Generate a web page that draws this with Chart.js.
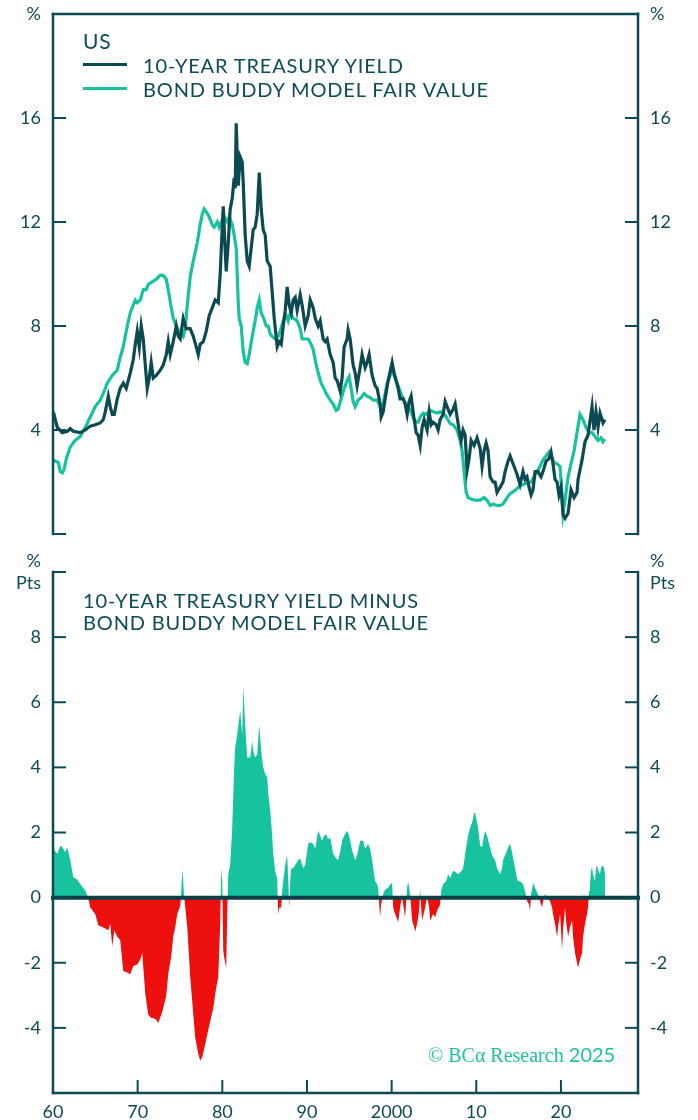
<!DOCTYPE html>
<html>
<head>
<meta charset="utf-8">
<script src="https://cdn.jsdelivr.net/npm/chart.js@4.4.1/dist/chart.umd.min.js"></script>
<style>
  html, body { margin: 0; padding: 0; background: #fff; }
  #wrap { position: relative; width: 698px; height: 1120px; overflow: hidden; font-family: "Lato", "Open Sans", sans-serif; color: #0d4b55; }
  canvas { position: absolute; left: 0; top: 0; }
  .txt { position: absolute; white-space: nowrap; font-size: 20px; line-height: 24px; letter-spacing: 0.85px; }
  .sw { position: absolute; height: 3px; width: 44px; }
  .credit { position: absolute; left: 428px; top: 1042px; color: #1fc29d; font-size: 20px; white-space: nowrap; }
  .credit .serif { font-family: "Liberation Serif", "DejaVu Serif", serif; }
</style>
</head>
<body>
<div id="wrap">
  <canvas id="topChart" width="698" height="1120"></canvas>
  <canvas id="bottomChart" width="698" height="1120"></canvas>

  <div class="txt" style="left:83px; top:29px; font-size:21px;">US</div>
  <div class="sw" style="left:83px; top:63px; background:#0b4a51;"></div>
  <div class="txt" style="left:143px; top:53px;">10-YEAR TREASURY YIELD</div>
  <div class="sw" style="left:83px; top:87px; background:#16c39e;"></div>
  <div class="txt" style="left:143px; top:77px;">BOND BUDDY MODEL FAIR VALUE</div>

  <div class="txt" style="left:83px; top:588px;">10-YEAR TREASURY YIELD MINUS</div>
  <div class="txt" style="left:83px; top:610px;">BOND BUDDY MODEL FAIR VALUE</div>

  <div class="credit"><span class="serif">© BCα Research</span> 2025</div>
</div>

<script>
// ---- data (decimal years) ----
const yieldYears = [1960.04,1960.51,1961.10,1961.69,1962.04,1962.39,1963.22,1963.81,1964.40,1964.99,1965.58,1965.94,1966.17,1966.53,1966.76,1967.00,1967.24,1967.59,1967.94,1968.30,1968.65,1969.13,1969.48,1969.72,1969.95,1970.19,1970.42,1970.66,1970.90,1971.13,1971.37,1971.60,1971.84,1972.20,1972.67,1973.02,1973.38,1973.61,1973.85,1974.20,1974.56,1974.80,1975.03,1975.38,1975.74,1976.21,1976.57,1976.92,1977.16,1977.39,1977.75,1978.10,1978.45,1978.81,1979.16,1979.52,1979.75,1979.87,1980.11,1980.34,1980.46,1980.70,1980.93,1981.17,1981.40,1981.52,1981.64,1981.88,1982.11,1982.35,1982.47,1982.70,1982.94,1983.17,1983.41,1983.65,1983.88,1984.12,1984.36,1984.59,1984.83,1985.06,1985.30,1985.65,1985.89,1986.13,1986.48,1986.72,1986.96,1987.19,1987.43,1987.66,1987.90,1988.14,1988.37,1988.61,1988.84,1989.20,1989.43,1989.79,1990.14,1990.38,1990.73,1990.97,1991.32,1991.56,1991.91,1992.15,1992.38,1992.74,1993.09,1993.33,1993.56,1993.92,1994.15,1994.39,1994.74,1994.86,1995.10,1995.45,1995.69,1995.92,1996.28,1996.51,1996.87,1997.10,1997.34,1997.70,1998.05,1998.29,1998.64,1998.76,1999.00,1999.23,1999.59,2000.06,2000.29,2000.77,2001.00,2001.36,2001.59,2001.83,2002.07,2002.30,2002.66,2002.90,2003.13,2003.37,2003.60,2003.84,2004.19,2004.43,2004.67,2004.90,2005.26,2005.49,2005.73,2006.08,2006.32,2006.67,2006.91,2007.26,2007.50,2007.73,2007.97,2008.21,2008.44,2008.68,2008.91,2009.15,2009.39,2009.74,2010.09,2010.45,2010.68,2010.92,2011.16,2011.39,2011.63,2011.98,2012.22,2012.45,2012.81,2013.16,2013.40,2013.75,2013.99,2014.34,2014.58,2014.81,2015.17,2015.52,2015.76,2015.99,2016.23,2016.47,2016.70,2016.94,2017.29,2017.65,2017.88,2018.24,2018.59,2018.83,2019.06,2019.30,2019.54,2019.77,2020.01,2020.25,2020.48,2020.84,2021.19,2021.55,2021.90,2022.02,2022.49,2022.84,2023.20,2023.67,2023.90,2024.14,2024.38,2024.61,2024.97,2025.20];
const yieldValues = [4.7,4.1,3.9,3.95,4.05,3.95,3.9,4.0,4.15,4.2,4.27,4.4,4.7,5.3,4.9,4.6,4.6,5.2,5.6,5.8,5.6,6.2,6.7,7.3,7.8,7.2,8.0,7.5,6.5,5.6,6.0,6.6,6.0,6.1,6.3,6.5,6.9,7.4,6.9,7.4,8.0,7.6,7.5,8.3,7.9,7.9,7.6,7.2,6.9,7.3,7.4,7.8,8.4,8.7,9.0,8.9,10.0,10.9,12.6,10.9,10.1,11.2,12.5,12.9,13.7,13.3,15.8,13.4,14.5,14.3,13.5,11.5,10.5,10.3,11.0,11.7,11.8,12.3,13.9,12.5,11.7,11.5,10.5,10.3,9.3,8.3,7.2,7.4,7.3,8.0,8.6,9.5,8.8,8.5,9.0,9.1,8.6,9.2,8.8,8.0,8.4,9.0,8.7,8.3,8.0,8.2,7.5,7.4,7.5,6.9,6.6,6.0,5.9,5.5,6.0,7.2,7.5,7.85,7.5,6.5,6.2,5.7,6.4,6.9,6.4,6.6,6.9,6.1,5.7,5.6,5.0,4.5,4.7,5.2,5.9,6.6,6.2,5.6,5.2,5.2,5.0,4.6,5.1,5.3,4.4,3.9,3.8,3.4,4.1,4.4,4.0,4.7,4.2,4.3,4.2,4.0,4.4,4.6,5.1,4.8,4.6,4.8,5.0,4.5,4.0,3.6,4.0,3.8,2.45,2.9,3.6,3.4,3.7,3.3,2.6,3.2,3.5,3.2,2.2,2.0,2.0,1.6,1.8,2.0,2.4,2.8,3.0,2.7,2.5,2.3,1.9,2.4,2.1,2.2,1.8,1.5,1.7,2.4,2.4,2.2,2.4,2.8,2.9,3.15,2.7,2.1,2.0,1.5,1.8,0.73,0.6,0.8,1.7,1.4,1.6,2.1,2.85,3.55,3.8,4.9,4.0,4.7,4.1,4.65,4.27,4.4];

const modelYears = [1960.04,1960.27,1960.63,1960.86,1961.10,1961.33,1961.57,1962.04,1962.63,1963.22,1963.81,1964.40,1964.99,1965.58,1966.06,1966.41,1967.00,1967.59,1967.94,1968.30,1968.77,1969.13,1969.36,1969.72,1969.95,1970.31,1970.66,1971.01,1971.25,1971.72,1972.20,1972.67,1973.02,1973.38,1973.61,1973.97,1974.20,1974.56,1974.91,1975.15,1975.38,1975.62,1975.86,1976.21,1976.57,1977.04,1977.39,1977.63,1977.86,1978.10,1978.45,1978.81,1979.04,1979.40,1979.63,1979.87,1980.22,1980.58,1980.81,1981.17,1981.40,1981.64,1981.76,1981.88,1981.99,1982.23,1982.47,1982.70,1982.94,1983.17,1983.53,1983.88,1984.12,1984.36,1984.59,1984.83,1985.18,1985.42,1985.65,1985.89,1986.25,1986.60,1986.84,1987.19,1987.55,1987.78,1988.02,1988.37,1988.84,1989.20,1989.43,1989.79,1990.14,1990.49,1990.73,1991.09,1991.32,1991.68,1991.91,1992.27,1992.74,1993.09,1993.45,1993.68,1994.04,1994.39,1994.74,1994.98,1995.22,1995.45,1995.69,1996.04,1996.40,1996.75,1997.10,1997.46,1997.81,1998.29,1998.64,1999.00,1999.47,1999.82,2000.06,2000.29,2000.65,2001.00,2001.36,2001.83,2002.18,2002.54,2002.90,2003.13,2003.37,2003.72,2004.08,2004.55,2004.90,2005.37,2005.73,2006.08,2006.44,2006.91,2007.26,2007.73,2008.09,2008.32,2008.56,2008.80,2009.03,2009.39,2009.86,2010.45,2010.92,2011.27,2011.63,2011.98,2012.45,2012.81,2013.16,2013.63,2013.99,2014.46,2014.81,2015.17,2015.52,2015.99,2016.47,2016.82,2017.18,2017.53,2017.88,2018.24,2018.59,2018.83,2019.18,2019.54,2019.89,2020.13,2020.25,2020.48,2020.84,2021.19,2021.55,2021.90,2022.25,2022.61,2022.96,2023.32,2023.67,2024.02,2024.38,2024.73,2024.97,2025.20];
const modelValues = [2.85,2.8,2.75,2.4,2.35,2.5,2.9,3.35,3.6,3.75,4.1,4.5,4.9,5.15,5.5,5.8,6.1,6.3,6.8,7.2,8.0,8.5,8.7,9.0,8.9,9.0,9.4,9.4,9.6,9.7,9.8,9.96,9.95,9.8,9.4,8.7,8.3,8.0,7.75,7.7,7.6,7.9,8.8,9.9,10.5,11.2,11.9,12.3,12.5,12.4,12.2,11.9,11.8,12.0,11.8,12.0,12.2,12.0,12.2,11.9,11.5,11.0,10.0,8.9,8.3,8.0,7.0,6.6,6.55,6.9,7.6,8.2,8.7,9.0,8.5,8.35,8.0,8.0,7.7,7.6,7.5,7.6,7.8,8.2,8.4,8.2,8.5,8.3,8.2,7.9,7.5,7.5,7.5,7.3,7.1,6.5,6.2,5.8,5.65,5.4,5.15,5.0,4.75,4.8,5.2,5.6,5.9,6.05,5.6,5.1,4.9,5.15,5.25,5.4,5.3,5.25,5.15,5.15,4.9,5.0,5.8,6.1,6.3,6.1,5.8,5.5,5.2,4.9,4.8,4.5,4.3,4.3,4.5,4.65,4.6,4.75,4.7,4.65,4.7,4.65,4.5,4.25,4.2,4.0,3.6,3.2,2.4,1.6,1.4,1.35,1.3,1.3,1.4,1.3,1.1,1.15,1.1,1.1,1.15,1.4,1.55,1.65,1.75,1.85,1.9,1.95,2.0,2.2,2.4,2.6,2.85,3.0,3.15,3.0,2.75,2.7,2.6,1.5,0.8,1.3,2.2,2.7,3.2,3.9,4.6,4.4,4.1,3.9,3.9,3.75,3.6,3.7,3.55,3.65];

const spreadYears = [1960.04,1960.51,1960.86,1961.10,1961.45,1961.69,1962.04,1962.39,1962.87,1963.22,1963.81,1964.17,1964.40,1964.99,1965.35,1965.94,1966.53,1966.76,1967.00,1967.24,1967.59,1967.94,1968.30,1968.77,1969.13,1969.48,1969.95,1970.31,1970.54,1970.90,1971.25,1971.60,1971.84,1972.20,1972.43,1972.79,1973.02,1973.38,1973.61,1973.97,1974.20,1974.44,1974.68,1975.03,1975.15,1975.27,1975.38,1975.50,1975.62,1975.86,1976.21,1976.45,1976.80,1977.16,1977.39,1977.63,1977.98,1978.22,1978.57,1978.93,1979.16,1979.40,1979.52,1979.75,1979.87,1979.99,1980.11,1980.34,1980.46,1980.58,1980.70,1980.93,1981.17,1981.40,1981.52,1981.76,1982.11,1982.35,1982.47,1982.70,1982.94,1983.29,1983.53,1983.65,1983.88,1984.12,1984.36,1984.59,1984.83,1985.06,1985.30,1985.42,1985.65,1985.89,1986.01,1986.25,1986.48,1986.60,1986.72,1986.96,1987.07,1987.19,1987.43,1987.66,1987.78,1987.90,1988.02,1988.14,1988.37,1988.61,1988.96,1989.20,1989.55,1989.79,1990.14,1990.38,1990.73,1990.97,1991.32,1991.56,1991.79,1992.03,1992.27,1992.50,1992.74,1993.09,1993.45,1993.68,1993.92,1994.15,1994.39,1994.74,1994.98,1995.33,1995.69,1995.92,1996.28,1996.63,1996.87,1997.22,1997.46,1997.70,1998.05,1998.29,1998.41,1998.64,1998.76,1999.00,1999.23,1999.59,1999.82,2000.06,2000.18,2000.41,2000.77,2001.00,2001.24,2001.36,2001.59,2001.83,2001.95,2002.18,2002.42,2002.66,2002.78,2003.01,2003.25,2003.37,2003.49,2003.60,2003.96,2004.19,2004.43,2004.55,2004.90,2005.14,2005.37,2005.73,2005.85,2006.08,2006.44,2006.67,2006.91,2007.26,2007.50,2007.85,2008.21,2008.44,2008.80,2009.03,2009.27,2009.50,2009.74,2009.86,2010.09,2010.21,2010.45,2010.68,2010.92,2011.04,2011.27,2011.63,2011.86,2012.22,2012.45,2012.81,2013.04,2013.16,2013.40,2013.63,2013.87,2013.99,2014.22,2014.58,2014.81,2014.93,2015.17,2015.52,2015.76,2015.99,2016.23,2016.35,2016.47,2016.70,2016.94,2017.29,2017.53,2017.77,2018.00,2018.12,2018.36,2018.71,2018.95,2019.06,2019.30,2019.54,2019.66,2019.89,2020.01,2020.13,2020.25,2020.48,2020.60,2020.84,2021.07,2021.31,2021.43,2021.66,2021.90,2022.02,2022.25,2022.49,2022.61,2022.84,2023.08,2023.20,2023.32,2023.43,2023.55,2023.67,2023.79,2024.02,2024.14,2024.26,2024.38,2024.61,2024.73,2024.97,2025.08,2025.20];
const spreadValues = [1.5,1.35,1.6,1.55,1.4,1.55,1.15,0.63,0.55,0.42,0.22,0.0,-0.3,-0.5,-0.85,-0.92,-1.0,-0.8,-1.5,-1.0,-1.2,-1.3,-2.25,-2.3,-2.35,-2.1,-2.05,-1.9,-1.7,-2.95,-3.6,-3.7,-3.7,-3.75,-3.85,-3.6,-3.4,-3.0,-2.35,-1.8,-1.2,-0.9,-0.5,-0.25,0.2,0.85,0.5,0.0,-0.3,-0.9,-2.45,-3.2,-4.3,-4.8,-5.0,-4.9,-4.5,-4.2,-3.8,-3.4,-2.95,-2.6,-2.45,-0.8,0.9,0.5,-1.65,-2.0,-2.15,-0.5,0.72,1.0,2.15,4.0,4.6,5.0,5.75,5.0,6.5,5.3,4.3,4.3,4.8,4.5,4.3,4.4,5.3,4.5,4.0,3.8,3.7,3.2,2.7,1.9,1.35,0.8,0.6,-0.5,-0.3,-0.3,0.2,0.5,1.0,1.3,0.6,-0.3,0.5,0.9,0.9,1.0,1.15,1.2,0.9,1.0,1.65,1.7,1.65,1.5,2.05,1.9,1.75,1.9,1.95,1.8,1.85,1.35,1.2,1.15,1.4,1.75,1.9,2.05,1.9,1.45,1.15,1.3,1.75,1.75,1.5,1.65,1.5,1.15,0.5,0.4,0.3,-0.6,-0.2,0.1,0.25,0.3,0.4,0.45,-0.3,-0.5,-0.75,-0.3,0.1,-0.2,-0.6,0.3,0.5,0.1,-0.7,-0.9,-1.05,-0.8,-0.4,0.3,-0.3,-0.7,-0.3,0.05,-0.3,-0.7,-0.5,-0.6,-0.4,-0.2,0.2,0.42,0.5,0.72,0.6,0.82,0.8,0.72,0.8,0.9,1.55,1.9,2.15,2.3,2.6,2.6,2.3,2.15,1.6,1.55,1.9,2.05,1.9,1.55,1.3,1.15,0.9,0.72,0.9,1.15,1.3,1.45,1.6,1.65,1.4,0.9,0.6,0.5,0.5,0.42,0.2,-0.1,-0.2,-0.4,0.1,0.45,0.3,0.1,-0.1,-0.3,0.05,0.1,0.0,-0.1,-0.3,-0.5,-0.8,-1.2,-0.9,-0.5,-1.0,-1.6,-1.0,-0.3,-0.7,-1.2,-0.9,-0.7,-1.2,-1.7,-2.0,-2.15,-1.9,-1.7,-1.2,-0.8,-0.5,-0.3,0.2,0.4,0.8,0.95,0.7,0.5,0.9,1.0,0.85,0.72,0.9,1.0,0.9,0.72];

const xTicks = [1960, 1970, 1980, 1990, 2000, 2010, 2020];
const xTickLabels = ['60', '70', '80', '90', '2000', '10', '20'];
const topTicks = [0, 4, 8, 12, 16, 20];
const bottomTicks = [-6, -4, -2, 0, 2, 4, 6, 8, 10];

const X_MIN = 1960;
const X_MAX = 2029.1;

const DARK = '#0b4a51';
const GREEN = '#16c39e';
const RED = '#ee0f0f';
const AXIS = '#0d4a54';
const TEXT = '#0d4b55';
const FONT = { family: 'Lato, "Open Sans", sans-serif', size: 18 };

const pairs = (xs, ys) => xs.map((x, i) => ({ x: x, y: ys[i] }));

/* =========================
   FRAME (axes drawn inward)
========================= */
const framePlugin = {
    id: 'frame',
    afterDatasetsDraw(chart, args, opts) {
        const { ctx, chartArea: a } = chart;
        const yScale = chart.scales.y;
        const seg = (x1, y1, x2, y2, w) => {
            ctx.lineWidth = w;
            ctx.beginPath();
            ctx.moveTo(x1, y1);
            ctx.lineTo(x2, y2);
            ctx.stroke();
        };
        ctx.save();
        ctx.strokeStyle = AXIS;
        ctx.lineCap = 'square';

        if (opts.zero) {
            const y0 = yScale.getPixelForValue(0);
            ctx.strokeStyle = '#0b3f47';
            seg(a.left, y0, a.right, y0, 4);
            ctx.strokeStyle = AXIS;
        }

        seg(a.left, a.top, a.left, a.bottom, 2.5);
        seg(a.right, a.top, a.right, a.bottom, 2.5);
        if (opts.top) seg(a.left, a.top, a.right, a.top, 2.5);
        if (opts.bottom) seg(a.left, a.bottom, a.right, a.bottom, 2.5);

        ctx.lineCap = 'butt';
        opts.yTicks.forEach(v => {
            const y = yScale.getPixelForValue(v);
            seg(a.left, y, a.left + 13, y, 2);
            seg(a.right - 13, y, a.right, y, 2);
        });

        if (opts.xTicks) {
            const xs = chart.scales.x;
            opts.xTicks.forEach(v => {
                if (v === X_MIN) return;
                const x = xs.getPixelForValue(v);
                seg(x, a.bottom, x, a.bottom - 13, 2);
            });
        }
        ctx.restore();
    }
};

const setTicks = list => scale => { scale.ticks = list.map(v => ({ value: v })); };

function yAxis(position, min, max, ticks, label) {
    return {
        type: 'linear',
        position: position,
        min: min,
        max: max,
        afterBuildTicks: setTicks(ticks),
        afterFit: s => {
            s.width = position === 'left' ? 53 : 60;
            // keep the end labels from pushing the plot area around
            s.paddingTop = 0;
            s.paddingBottom = 0;
        },
        grid: { display: false, drawTicks: false },
        border: { display: false },
        ticks: {
            color: TEXT,
            font: FONT,
            padding: 12,
            autoSkip: false,
            callback: label
        }
    };
}

const topLabel = v => (v === 20 ? '%' : v === 0 ? '' : String(v));
const bottomLabel = v => (v === 10 ? ['%', 'Pts'] : v === -6 ? '' : String(v));

/* =========================
   TOP: YIELD vs FAIR VALUE
========================= */
new Chart(document.getElementById('topChart'), {
    type: 'line',
    data: {
        datasets: [
            {
                label: '10-YEAR TREASURY YIELD',
                data: pairs(yieldYears, yieldValues),
                borderColor: DARK,
                borderWidth: 3.2,
                pointRadius: 0,
                tension: 0
            },
            {
                label: 'BOND BUDDY MODEL FAIR VALUE',
                data: pairs(modelYears, modelValues),
                borderColor: GREEN,
                borderWidth: 3.2,
                pointRadius: 0,
                tension: 0
            }
        ]
    },
    options: {
        responsive: false,
        animation: false,
        devicePixelRatio: 1,
        layout: { padding: { top: 14, bottom: 1120 - 534, left: 0, right: 0 } },
        plugins: {
            legend: { display: false },
            tooltip: { enabled: false },
            frame: { top: true, bottom: false, yTicks: topTicks }
        },
        scales: {
            x: { type: 'linear', min: X_MIN, max: X_MAX, display: false },
            y: yAxis('left', 0, 20, topTicks, topLabel),
            y2: yAxis('right', 0, 20, topTicks, topLabel)
        }
    },
    plugins: [framePlugin]
});

/* =========================
   BOTTOM: SPREAD
========================= */
new Chart(document.getElementById('bottomChart'), {
    type: 'line',
    data: {
        datasets: [{
            label: 'SPREAD',
            data: pairs(spreadYears, spreadValues),
            borderWidth: 0,
            borderColor: 'rgba(0,0,0,0)',
            pointRadius: 0,
            tension: 0,
            fill: { target: 'origin', above: GREEN, below: RED }
        }]
    },
    options: {
        responsive: false,
        animation: false,
        devicePixelRatio: 1,
        layout: { padding: { top: 572, bottom: 0, left: 0, right: 0 } },
        plugins: {
            legend: { display: false },
            tooltip: { enabled: false },
            filler: { propagate: false },
            frame: { top: false, bottom: true, zero: true, yTicks: bottomTicks.filter(v => v !== -6), xTicks: xTicks }
        },
        scales: {
            x: {
                type: 'linear',
                min: X_MIN,
                max: X_MAX,
                afterBuildTicks: setTicks(xTicks),
                afterFit: s => { s.height = 27; },
                grid: { display: false, drawTicks: false },
                border: { display: false },
                ticks: {
                    color: TEXT,
                    font: FONT,
                    padding: 8,
                    maxRotation: 0,
                    autoSkip: false,
                    callback: v => xTickLabels[xTicks.indexOf(v)]
                }
            },
            y: yAxis('left', -6, 10, bottomTicks, bottomLabel),
            y2: yAxis('right', -6, 10, bottomTicks, bottomLabel)
        }
    },
    plugins: [framePlugin]
});
</script>
</body>
</html>
